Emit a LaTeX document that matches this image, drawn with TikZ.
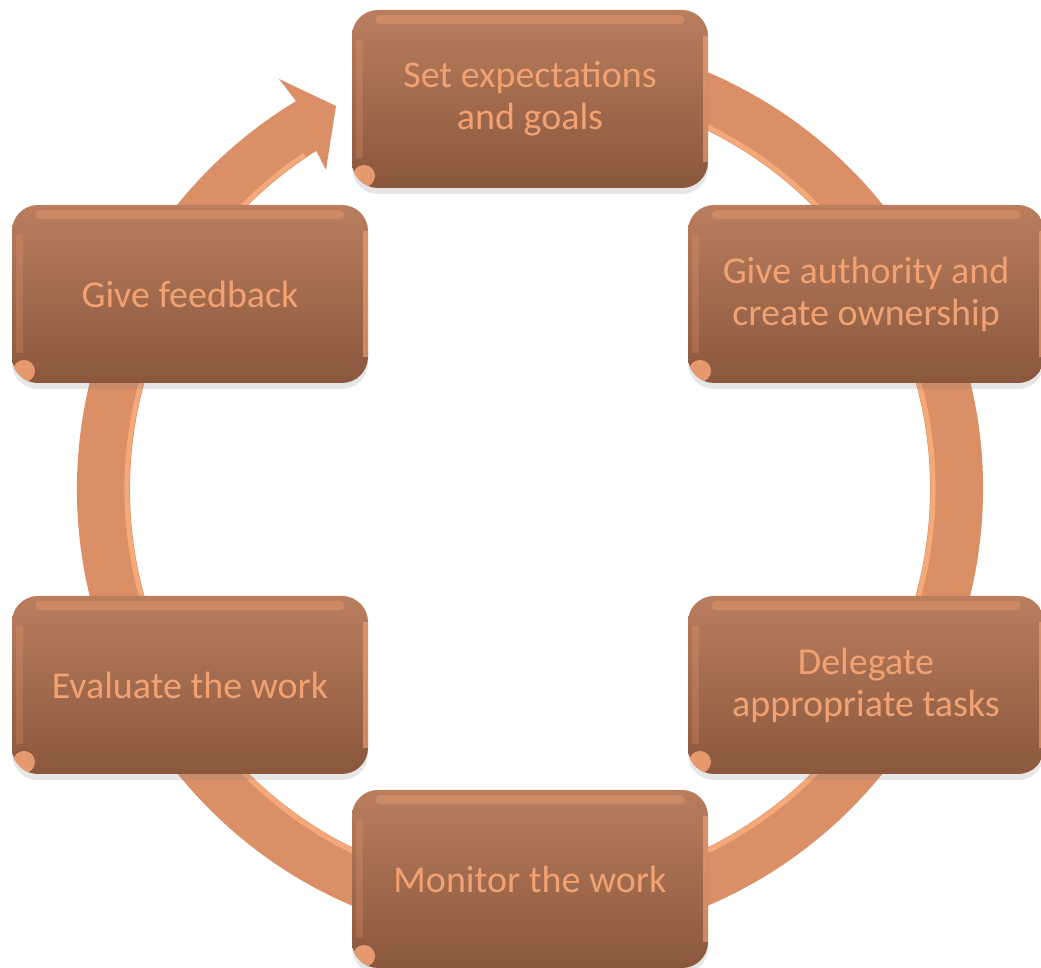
\documentclass[tikz,border=0pt]{standalone}
\usepackage{fontspec}
\setmainfont{Carlito}
\usetikzlibrary{calc,shadows}

\definecolor{ringfill}{RGB}{218,143,102}
\definecolor{ringlight}{RGB}{245,168,120}
\definecolor{boxtop}{RGB}{186,126,94}
\definecolor{boxbot}{RGB}{138,87,61}
\definecolor{boxtext}{RGB}{242,162,114}
\definecolor{bevelcol}{RGB}{246,165,118}

\tikzset{
  stepbox/.style={
    rounded corners=26pt, minimum width=356pt, minimum height=178pt,
    inner sep=0pt, align=center, text=boxtext,
    font=\fontsize{38}{42}\selectfont,
    top color=boxtop, bottom color=boxbot,
    drop shadow={opacity=0.2, shadow xshift=0pt, shadow yshift=-6pt},
    path picture={
      \draw[bevelcol, opacity=0.35, line width=9pt, line cap=round]
        ($(path picture bounding box.north west)+(28,-10)$) --
        ($(path picture bounding box.north east)+(-28,-10)$);
      \draw[bevelcol, opacity=0.6, line width=5pt]
        ($(path picture bounding box.north east)+(-3,-26)$) --
        ($(path picture bounding box.south east)+(-3,26)$);
      \draw[bevelcol, opacity=0.22, line width=7pt]
        ($(path picture bounding box.north west)+(7,-30)$) --
        ($(path picture bounding box.south west)+(7,30)$);
      \fill[bevelcol, opacity=0.85]
        ($(path picture bounding box.south west)+(12,12)$) circle (11);
    }
  },
  ringband/.style={fill=ringfill},
  ringedge/.style={draw=ringlight, line width=5pt}
}

\begin{document}
\begin{tikzpicture}[x=1pt,y=1pt]
\useasboundingbox (0,0) rectangle (1041,968);

% the cycle ring, ending in an arrowhead that points at the first step
\coordinate (c) at (530,479);
\coordinate (headout) at (279,889);
\coordinate (headtip) at (336,862);
\coordinate (headin) at (326,798);
\fill[ringband]
  ($(c)+(80:453)$) arc[start angle=80, end angle=-238.9, radius=453]
  -- (headout) -- (headtip) -- (headin)
  -- ($(c)+(-237.7:400)$) arc[start angle=-237.7, end angle=80, radius=400]
  -- cycle;
\draw[ringedge] ($(c)+(80:403)$) arc[start angle=80, end angle=-236, radius=403];

% the six steps
\node[stepbox] (goals)     at (530,869) {Set expectations\\and goals};
\node[stepbox] (authority) at (866,674) {Give authority and\\create ownership};
\node[stepbox] (delegate)  at (866,283) {Delegate\\appropriate tasks};
\node[stepbox] (monitor)   at (530,89)  {Monitor the work};
\node[stepbox] (evaluate)  at (190,283) {Evaluate the work};
\node[stepbox] (feedback)  at (190,674) {Give feedback};
\end{tikzpicture}
\end{document}
